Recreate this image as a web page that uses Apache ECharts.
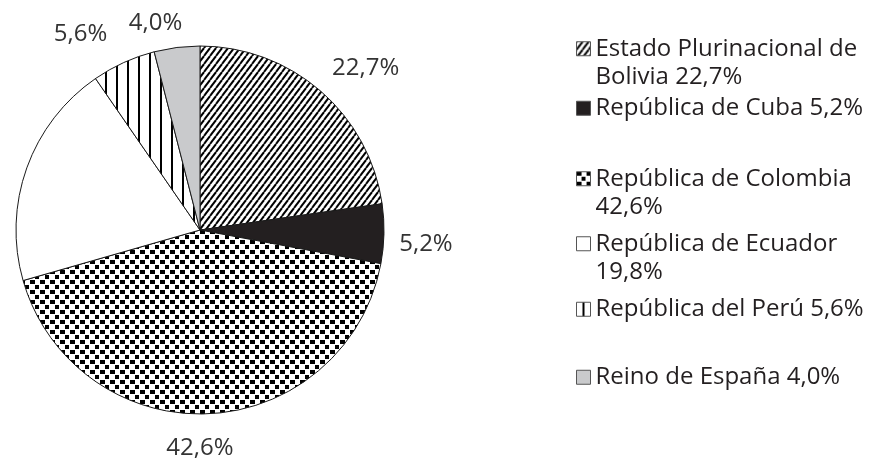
<!DOCTYPE html>
<html>
<head>
<meta charset="utf-8">
<script src="https://cdn.jsdelivr.net/npm/echarts@6/dist/echarts.min.js"></script>
<style>
  html, body { margin: 0; padding: 0; background: #ffffff; }
  #chart { width: 886px; height: 465px; }
</style>
</head>
<body>
<div id="chart"></div>
<script>
// Shares by country (percent)
const countries = [
  'Estado Plurinacional de Bolivia',
  'República de Cuba',
  'República de Colombia',
  'República de Ecuador',
  'República del Perú',
  'Reino de España'
];
const shares = [22.7, 5.2, 42.6, 19.8, 5.6, 4.0];
// Slices that carry a value label next to the pie
const showSliceLabel = [true, true, true, false, true, true];

// ---- layout / style constants ----
const CX = 200, CY = 230, R = 184;
const FONT = '"Open Sans", "Noto Sans", sans-serif';
const TEXT = '#231f20';
const legendTops = [6, 94, 136, 201, 295, 363];
const labelGap = 12;
const labelNudge = [[17, 10], [3, 10], [-10, 9], [0, 0], [-29, 3], [-18, 3]];

function fmt(v) { return v.toFixed(1).replace('.', ',') + '%'; }

// Small repeating tiles used as fill patterns
function tile(w, h, draw) {
  const c = document.createElement('canvas');
  c.width = w; c.height = h;
  const g = c.getContext('2d');
  g.fillStyle = '#ffffff';
  g.fillRect(0, 0, w, h);
  g.fillStyle = '#000000';
  g.strokeStyle = '#000000';
  draw(g, w, h);
  return c;
}
const hatch = tile(6, 8, (g, w, h) => {
  g.lineWidth = 2.0;
  for (let k = -1; k <= 1; k++) {
    g.beginPath();
    g.moveTo(k * w, h);
    g.lineTo(k * w + w, 0);
    g.stroke();
  }
});
const dots = tile(10, 10, (g) => {
  g.fillRect(0, 0, 5, 4);
  g.fillRect(5, 5, 4, 4);
});
const stripes = tile(11, 4, (g) => {
  g.fillRect(6, 0, 2, 4);
});

const fills = [
  { image: hatch, repeat: 'repeat' },
  '#231f20',
  { image: dots, repeat: 'repeat' },
  '#ffffff',
  { image: stripes, repeat: 'repeat' },
  '#c9cacc'
];

// Word-wrap legend entries that do not fit the space right of the pie
const measureCtx = document.createElement('canvas').getContext('2d');
measureCtx.font = '24px ' + FONT;
const LEGEND_WIDTH = 288;
function wrapWords(text) {
  const words = text.split(' ');
  const lines = [];
  let cur = '';
  words.forEach((wd) => {
    const trial = cur ? cur + ' ' + wd : wd;
    if (cur && measureCtx.measureText(trial).width > LEGEND_WIDTH) {
      lines.push(cur);
      cur = wd;
    } else {
      cur = trial;
    }
  });
  lines.push(cur);
  return lines;
}

const total = shares.reduce((a, b) => a + b, 0);

const legends = countries.map((name, i) => {
  const lines = wrapWords(name + ' ' + fmt(shares[i]));
  // the icon sits beside the first line: pad the block with empty lines on top
  const pad = new Array(lines.length - 1).fill('\u200b');
  const content = pad.concat(lines).join('\n');
  return {
    data: [name],
    left: 576,
    top: legendTops[i],
    padding: 0,
    orient: 'vertical',
    itemWidth: 14,
    itemHeight: 14,
    selectedMode: false,
    icon: 'rect',
    formatter: () => content,
    itemStyle: { borderColor: '#555555', borderWidth: 1 },
    textStyle: {
      fontFamily: FONT,
      fontSize: 24,
      color: TEXT,
      lineHeight: 28.5
    }
  };
});

const chart = echarts.init(document.getElementById('chart'));
chart.setOption({
  animation: false,
  backgroundColor: '#ffffff',
  legend: legends,
  series: [{
    type: 'pie',
    center: [CX, CY],
    radius: R,
    startAngle: 90,
    clockwise: true,
    avoidLabelOverlap: false,
    itemStyle: { borderColor: '#1a1a1a', borderWidth: 1 },
    label: {
      show: true,
      position: 'outside',
      formatter: (p) => fmt(p.value),
      fontFamily: FONT,
      fontSize: 24,
      color: '#333333'
    },
    labelLine: { show: false },
    labelLayout: function (p) {
      const i = p.dataIndex;
      const before = shares.slice(0, i).reduce((a, b) => a + b, 0);
      const th = 2 * Math.PI * (before + shares[i] / 2) / total;
      const ux = Math.sin(th), uy = -Math.cos(th);
      const w = p.labelRect.width, h = p.labelRect.height;
      const d = R + labelGap + Math.abs(ux) * w / 2 + Math.abs(uy) * h / 2;
      return {
        x: CX + d * ux + labelNudge[i][0],
        y: CY + d * uy + labelNudge[i][1],
        align: 'center',
        verticalAlign: 'middle'
      };
    },
    emphasis: { disabled: true },
    data: countries.map((name, i) => ({
      name: name,
      value: shares[i],
      itemStyle: { color: fills[i] },
      label: { show: showSliceLabel[i] }
    }))
  }]
});
</script>
</body>
</html>
